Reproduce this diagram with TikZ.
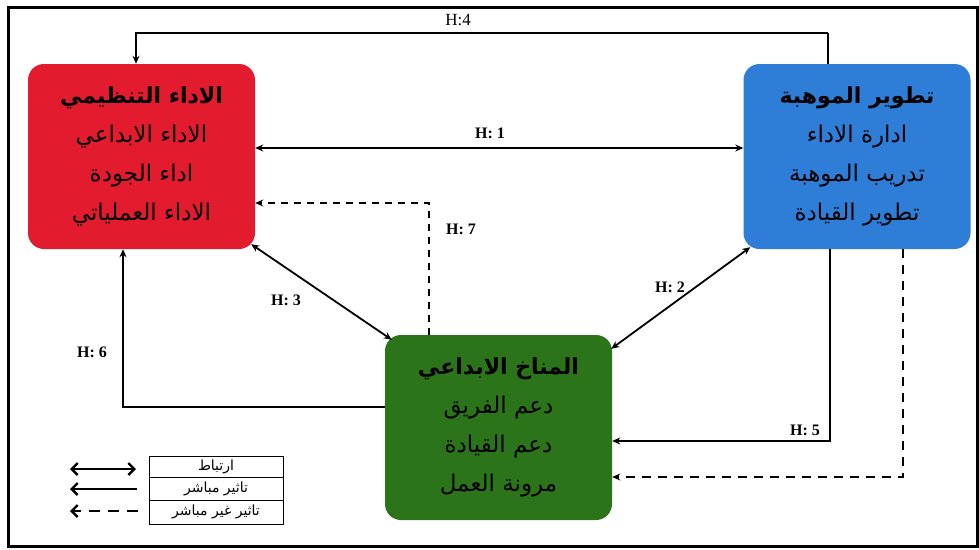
\documentclass[tikz,border=0pt]{standalone}
\usepackage{fontspec}
\setmainfont{Liberation Serif}
\newfontfamily\arabicfont[Script=Arabic]{DejaVu Sans}
\TeXXeTstate=1
\usetikzlibrary{arrows.meta}
\definecolor{redc}{RGB}{226,28,46}
\definecolor{bluec}{RGB}{46,126,216}
\definecolor{greenc}{RGB}{44,116,26}
\newcommand{\ar}[1]{\beginR #1\endR}
\tikzset{
  box/.style={rounded corners=16pt, minimum width=227pt, minimum height=185pt, inner sep=0pt, align=center, text=black, font=\arabicfont\fontsize{23}{39}\selectfont},
  conn/.style={line width=1.8pt},
  arr/.style={conn, -{Stealth[length=8pt,width=7pt]}},
  dbl/.style={conn, {Stealth[length=8pt,width=7pt]}-{Stealth[length=8pt,width=7pt]}},
  dsh/.style={arr, dash pattern=on 7pt off 6pt},
  hlab/.style={font=\bfseries\fontsize{16}{18}\selectfont, inner sep=1pt},
  legcell/.style={draw, line width=0.9pt, minimum width=134pt, inner sep=0pt, font=\arabicfont\fontsize{14}{15}\selectfont},
  legarr/.style={line width=2.4pt}
}
\begin{document}
\begin{tikzpicture}[x=1pt,y=-1pt]
\useasboundingbox (0,0) rectangle (979,549);
\draw[line width=3pt] (8,7) rectangle (977,546);

\node[box, fill=redc] (red) at (141.5,156.5) {{\bfseries\fontsize{22}{39}\selectfont\ar{الاداء التنظيمي}}\\ \ar{الاداء الابداعي}\\ \ar{اداء الجودة}\\ \ar{الاداء العملياتي}};
\node[box, fill=bluec] (blue) at (857,156.5) {{\bfseries\fontsize{22}{39}\selectfont\ar{تطوير الموهبة}}\\ \ar{ادارة الاداء}\\ \ar{تدريب الموهبة}\\ \ar{تطوير القيادة}};
\node[box, fill=greenc] (green) at (498.5,427.5) {{\bfseries\fontsize{22}{39}\selectfont\ar{المناخ الابداعي}}\\ \ar{دعم الفريق}\\ \ar{دعم القيادة}\\ \ar{مرونة العمل}};

% H4
\draw[line width=2.8pt] ([xshift=-29pt]blue.north) -- ++(0,-31) coordinate (h4corner);
\draw[arr] (h4corner) -| ([xshift=-5.5pt]red.north);
% H1
\draw[dbl] ([yshift=8.5pt]red.east) -- ([yshift=8.5pt]blue.west);
% H7
\draw[dsh, line width=1.3pt] ([xshift=-69.5pt]green.north) |- ([yshift=-46.5pt]red.east);
% H3
\draw[dbl] ([xshift=-4pt,yshift=5pt]red.south east) -- ([xshift=7pt,yshift=-5pt]green.north west);
% H2
\draw[dbl] ([xshift=7pt,yshift=2pt]blue.south west) -- ([xshift=-1pt,yshift=-14pt]green.north east);
% H6
\draw[arr] ([yshift=20.5pt]green.west) -| ([xshift=-18.5pt]red.south);
% H5
\draw[arr] ([xshift=-27pt]blue.south) |- ([yshift=-13.5pt]green.east);
% indirect
\draw[dsh, line width=2.2pt, dash pattern=on 9pt off 7pt] ([xshift=46pt]blue.south) |- ([yshift=-49.5pt]green.east);

% labels
\node[font=\fontsize{17}{19}\selectfont, inner sep=1pt] (l4) at (458,20) {H:4};
\node[hlab] (l1) at (490,133) {H: 1};
\node[hlab] (l7) at (461,229) {H: 7};
\node[hlab] (l3) at (286,300) {H: 3};
\node[hlab] (l2) at (670,287) {H: 2};
\node[hlab] (l6) at (92,352) {H: 6};
\node[hlab] (l5) at (805,430) {H: 5};

% legend
\node[legcell, minimum height=21pt] (leg1) at (216,466.5) {\ar{ارتباط}};
\node[legcell, minimum height=23pt] (leg2) at (216,488.5) {\ar{تاثير مباشر}};
\node[legcell, minimum height=24pt] (leg3) at (216,512) {\ar{تاثير غير مباشر}};
\coordinate (a1l) at (70,469);
\coordinate (a1r) at (136,469);
\coordinate (a2l) at (70,489);
\coordinate (a2r) at (137,489);
\coordinate (a3l) at (70,511);
\coordinate (a3r) at (138,511);
\draw[legarr, {Straight Barb[length=6pt,width=12pt]}-{Straight Barb[length=6pt,width=12pt]}] (a1l) -- (a1r);
\draw[legarr, {Straight Barb[length=6pt,width=12pt]}-] (a2l) -- (a2r);
\draw[legarr, -{Straight Barb[length=6pt,width=12pt]}, dash pattern=on 11pt off 8pt] (a3r) -- (a3l);
\end{tikzpicture}
\end{document}
